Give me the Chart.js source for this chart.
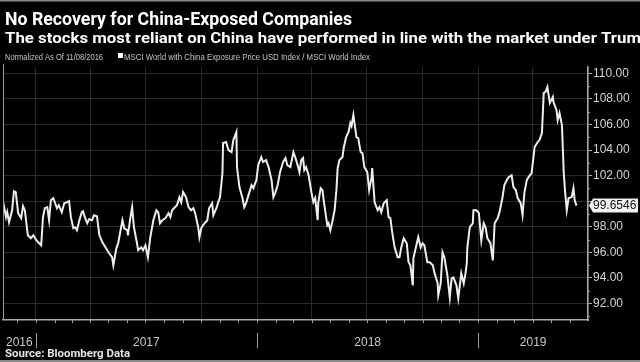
<!DOCTYPE html>
<html>
<head>
<meta charset="utf-8">
<script src="https://cdn.jsdelivr.net/npm/chart.js@4.4.0/dist/chart.umd.min.js"></script>
<style>
  html, body { margin: 0; padding: 0; background: #000; }
  #wrap { width: 640px; height: 362px; }
</style>
</head>
<body>
<div id="wrap"><canvas id="chart" width="640" height="362"></canvas></div>
<script>
// normalisation date of the index (11/08/2016); x values are days after it
const startDate = Date.UTC(2016, 10, 8);

const dayOffsets = [
  0, 2, 5, 7, 10, 15, 18, 21, 25, 30, 33, 36, 41, 46, 50, 55, 58, 63, 66, 69,
  73, 76, 79, 83, 86, 89, 92, 97, 101, 106, 109, 112, 116, 119, 122, 126, 130, 132, 135, 139,
  142, 147, 150, 155, 159, 164, 167, 172, 175, 180, 182, 187, 190, 197, 200, 205, 206, 210, 213, 216,
  221, 223, 228, 231, 235, 239, 243, 248, 253, 256, 259, 263, 268, 273, 276, 279, 282, 287, 291, 294,
  297, 302, 306, 310, 314, 317, 322, 324, 327, 330, 337, 340, 345, 347, 352, 355, 358, 362, 363, 368,
  372, 377, 380, 385, 386, 390, 395, 398, 401, 405, 410, 413, 418, 421, 426, 429, 434, 438, 443, 446,
  449, 453, 457, 462, 466, 469, 474, 479, 482, 486, 489, 492, 495, 497, 500, 504, 509, 512, 515, 519,
  520, 524, 527, 529, 532, 535, 537, 540, 543, 547, 550, 552, 555, 560, 562, 566, 570, 573, 575, 578,
  583, 586, 590, 593, 596, 601, 604, 608, 609, 613, 618, 621, 624, 628, 633, 636, 639, 642, 646, 651,
  654, 657, 661, 666, 669, 672, 676, 677, 680, 685, 689, 692, 695, 700, 704, 709, 712, 717, 718, 722,
  725, 728, 733, 737, 740, 743, 748, 751, 756, 760, 763, 765, 766, 770, 775, 776, 781, 785, 789, 793,
  796, 799, 804, 808, 811, 816, 819, 824, 827, 831, 834, 839, 842, 846, 849, 854, 857, 860, 864, 867,
  872, 875, 877, 882, 885, 889, 892, 895, 898, 902, 907, 908, 913, 915, 918, 922, 925, 927, 930, 933,
  938, 941, 943, 946
];

const indexValues = [
  100.00, 99.53, 98.75, 99.14, 98.35, 99.29, 100.78, 100.71, 99.06, 98.67,
  99.61, 99.29, 97.33, 97.10, 97.33, 96.94, 96.78, 96.55, 98.75, 99.45,
  99.53, 98.51, 100.08, 100.24, 99.84, 99.45, 99.69, 99.14, 99.84, 99.92,
  100.00, 98.75, 97.88, 97.96, 97.73, 98.51, 99.14, 99.22, 98.75, 98.27,
  98.59, 98.51, 98.90, 98.82, 97.33, 96.78, 96.55, 96.16, 95.92, 95.61,
  94.98, 96.31, 96.71, 98.51, 97.88, 97.73, 97.33, 98.67, 99.53, 97.96,
  96.71, 96.16, 96.39, 96.16, 96.55, 95.61, 97.18, 98.51, 99.29, 99.14,
  98.27, 98.51, 98.67, 99.06, 98.75, 99.29, 99.45, 99.69, 100.31, 99.92,
  100.71, 100.31, 99.53, 99.29, 99.45, 99.06, 97.96, 97.18, 97.88, 98.12,
  98.51, 99.45, 99.84, 98.90, 99.45, 99.92, 100.31, 102.20, 104.55, 104.63,
  104.00, 103.84, 104.78, 105.41, 102.67, 101.10, 100.24, 99.53, 99.84, 100.47,
  101.25, 101.02, 101.65, 102.82, 103.45, 103.06, 103.22, 102.67, 101.65, 100.31,
  100.63, 101.25, 102.27, 103.06, 103.37, 102.82, 102.67, 103.84, 103.45, 102.82,
  102.27, 103.22, 103.37, 102.43, 102.67, 102.04, 100.63, 99.92, 100.24, 98.51,
  99.84, 101.02, 100.86, 100.08, 99.06, 98.12, 98.27, 97.73, 98.35, 99.29,
  100.86, 102.59, 103.22, 103.45, 104.16, 105.02, 105.41, 106.12, 105.88, 106.75,
  105.02, 104.94, 103.84, 103.76, 102.67, 102.27, 100.86, 101.88, 102.59, 99.92,
  99.29, 99.53, 99.14, 99.84, 100.08, 98.75, 98.67, 97.57, 96.39, 95.61,
  95.61, 96.39, 97.10, 96.71, 95.22, 94.98, 93.41, 95.53, 96.16, 97.18,
  96.39, 96.71, 96.55, 95.22, 95.22, 94.98, 94.35, 93.57, 92.63, 93.57,
  96.00, 95.61, 94.20, 92.47, 93.96, 94.04, 93.41, 92.39, 94.35, 93.57,
  94.35, 95.14, 96.39, 97.96, 98.27, 99.29, 99.29, 99.06, 96.94, 98.27,
  97.96, 97.10, 96.71, 95.37, 98.27, 98.67, 99.14, 100.31, 101.25, 101.65,
  101.88, 102.04, 101.10, 100.86, 100.24, 99.84, 98.90, 100.63, 101.65, 101.88,
  102.20, 103.45, 104.24, 104.63, 104.78, 105.33, 108.47, 108.55, 108.94, 107.69,
  108.16, 107.76, 107.14, 106.35, 106.90, 105.96, 102.20, 100.86, 99.29, 100.24,
  100.31, 101.02, 100.08, 99.6546
];

const yTicks = [92, 94, 96, 98, 100, 102, 104, 106, 108, 110];
const years = [2016, 2017, 2018, 2019];
const axisEnd = [2019, 7, 1];

const titleText = 'No Recovery for China-Exposed Companies';
const subtitleText = 'The stocks most reliant on China have performed in line with the market under Trump';
const noteText = 'Normalized As Of 11/08/2016';
const seriesName = 'MSCI World with China Exposure Price USD Index / MSCI World Index';
const sourceText = 'Source: Bloomberg Data';

function dayOf(y, m, d) {
  return (Date.UTC(y, m - 1, d) - startDate) / 86400000;
}

const quarterStarts = [];
for (let y = 2017; y <= 2019; y++) {
  for (let m = 1; m <= 10; m += 3) {
    if (dayOf(y, m, 1) <= dayOf(...axisEnd)) quarterStarts.push(dayOf(y, m, 1));
  }
}

function scaledText(ctx, text, x, y, width, font, color, fitPart) {
  ctx.font = font;
  ctx.fillStyle = color;
  const w = ctx.measureText(fitPart || text).width;
  ctx.save();
  ctx.translate(x, y);
  ctx.scale(width / w, 1);
  ctx.fillText(text, 0, 0);
  ctx.restore();
}

const decor = {
  id: 'decor',
  beforeDraw(chart) {
    const ctx = chart.ctx;
    ctx.save();
    ctx.fillStyle = '#000';
    ctx.fillRect(0, 0, chart.width, chart.height);
    ctx.restore();
  },
  afterDraw(chart) {
    const { ctx, chartArea: a, scales } = chart;
    const xs = scales.x, ys = scales.y;
    ctx.save();
    ctx.textBaseline = 'alphabetic';
    ctx.textAlign = 'left';

    // frame
    ctx.fillStyle = '#8a8a8a';
    ctx.fillRect(0, 0, chart.width, 1.5);
    ctx.fillRect(0, chart.height - 2, chart.width, 2);
    ctx.strokeStyle = '#9a9a9a';
    ctx.lineWidth = 1;
    ctx.beginPath();
    ctx.moveTo(a.left + 0.5, a.top - 3);
    ctx.lineTo(a.left + 0.5, a.bottom);
    ctx.stroke();

    // headings (subtitle runs off the right edge, as in the original)
    scaledText(ctx, titleText, 5, 25, 347, 'bold 19px Roboto', '#ffffff');
    scaledText(ctx, subtitleText, 5, 43, 636, 'bold 14px Roboto', '#ffffff',
      subtitleText.slice(0, -1));
    scaledText(ctx, noteText, 5, 60, 98, '9px "Liberation Sans"', '#c4c4c4');
    ctx.fillStyle = '#ffffff';
    ctx.fillRect(118, 53, 5, 5);
    scaledText(ctx, seriesName, 124, 60, 246, '9px "Liberation Sans"', '#c4c4c4');

    // monthly minor ticks on the time axis
    ctx.strokeStyle = '#9a9a9a';
    ctx.beginPath();
    for (let y = 2016; y <= 2019; y++) {
      for (let m = 1; m <= 12; m++) {
        const d = dayOf(y, m, 1);
        if (d <= 0 || d >= xs.max) continue;
        const px = Math.round(xs.getPixelForValue(d)) + 0.5;
        ctx.moveTo(px, a.bottom);
        ctx.lineTo(px, a.bottom + 3);
      }
    }
    // odd-value minor ticks on the price axis
    for (let v = 91; v <= 109; v += 2) {
      const py = Math.round(ys.getPixelForValue(v)) + 0.5;
      ctx.moveTo(a.right, py);
      ctx.lineTo(a.right + 2, py);
    }
    ctx.stroke();

    // year labels and separators
    ctx.font = '12px "Liberation Sans"';
    ctx.fillStyle = '#c8c8c8';
    ctx.textAlign = 'center';
    years.forEach((yr) => {
      const from = Math.max(dayOf(yr, 1, 1), xs.min);
      const to = Math.min(dayOf(yr + 1, 1, 1), xs.max);
      const px0 = xs.getPixelForValue(from);
      const px1 = xs.getPixelForValue(to);
      ctx.fillText(String(yr), (px0 + px1) / 2, 346);
      if (to < xs.max) {
        ctx.strokeStyle = '#a0a0a0';
        ctx.beginPath();
        ctx.moveTo(Math.round(px1) + 0.5, 333);
        ctx.lineTo(Math.round(px1) + 0.5, 348);
        ctx.stroke();
      }
    });

    ctx.textAlign = 'left';
    scaledText(ctx, sourceText, 5, 357, 125, 'bold 10px Roboto', '#e6e6e6');

    // last value tag
    const last = indexValues[indexValues.length - 1];
    const ty = ys.getPixelForValue(last);
    ctx.fillStyle = '#f2f2f2';
    ctx.beginPath();
    ctx.moveTo(a.right + 1, ty);
    ctx.lineTo(a.right + 5, ty - 7);
    ctx.lineTo(638, ty - 7);
    ctx.lineTo(638, ty + 7);
    ctx.lineTo(a.right + 5, ty + 7);
    ctx.closePath();
    ctx.fill();
    ctx.fillStyle = '#111';
    ctx.font = '12px "Liberation Sans"';
    ctx.textBaseline = 'middle';
    ctx.fillText(String(last), a.right + 5, ty + 0.5);
    ctx.restore();
  }
};

const points = dayOffsets.map((d, i) => ({ x: d, y: indexValues[i] }));

new Chart(document.getElementById('chart').getContext('2d'), {
  type: 'line',
  data: {
    datasets: [{
      label: seriesName,
      data: points,
      borderColor: '#eeeeee',
      borderWidth: 2,
      pointRadius: 0,
      tension: 0,
      fill: false
    }]
  },
  options: {
    responsive: false,
    animation: false,
    devicePixelRatio: 1,
    layout: { padding: { top: 67, left: 3, right: 0, bottom: 0 } },
    plugins: { legend: { display: false }, tooltip: { enabled: false } },
    scales: {
      x: {
        type: 'linear',
        min: 0,
        max: dayOf(...axisEnd),
        afterBuildTicks: (s) => { s.ticks = quarterStarts.map(v => ({ value: v })); },
        afterFit: (s) => { s.height = 42; },
        ticks: { display: false },
        grid: { color: '#2a2a2a', lineWidth: 1, drawTicks: false },
        border: { display: true, color: '#a8a8a8', width: 1.5 }
      },
      y: {
        position: 'right',
        min: 90.7,
        max: 110.5,
        afterBuildTicks: (s) => { s.ticks = yTicks.map(v => ({ value: v })); },
        afterFit: (s) => { s.width = 52; },
        ticks: {
          color: '#d4d4d4',
          font: { family: 'Liberation Sans', size: 12 },
          padding: 1,
          callback: (v) => (v === 100 ? '' : v.toFixed(2))
        },
        grid: { color: '#2a2a2a', lineWidth: 1, tickLength: 4, tickColor: '#a8a8a8' },
        border: { display: true, color: '#a8a8a8', width: 1.5 }
      }
    }
  },
  plugins: [decor]
});
</script>
</body>
</html>
